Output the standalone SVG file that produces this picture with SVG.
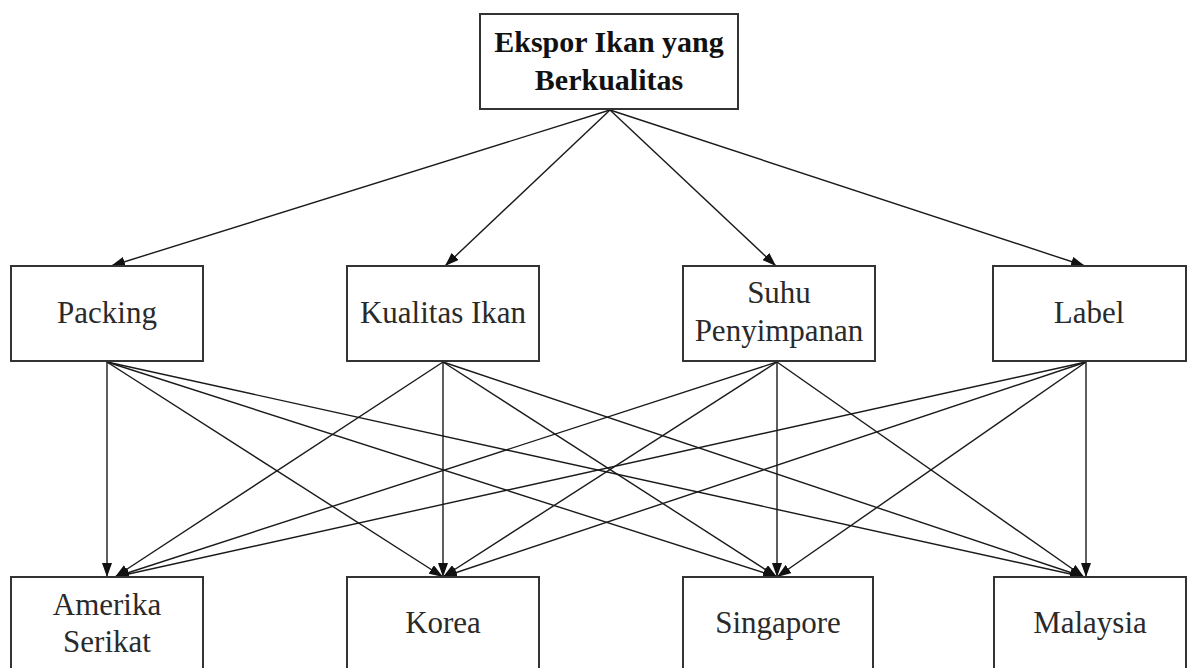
<svg xmlns="http://www.w3.org/2000/svg" width="1193" height="668" viewBox="0 0 1193 668">
  <defs>
    <marker id="arrow" viewBox="0 0 14 10" refX="14" refY="5" markerWidth="14" markerHeight="10" markerUnits="userSpaceOnUse" orient="auto">
      <path d="M0,0 L14,5 L0,10 Z" fill="#111"/>
    </marker>
  </defs>
  <style>
    .box { fill: #fff; stroke: #333; stroke-width: 2; }
    .lbl { font-family: "Liberation Serif", "Times New Roman", serif; font-size: 31px; fill: #2a2a2a; text-anchor: middle; }
    .title { font-weight: bold; font-size: 30px; fill: #111; }
    .edge { stroke: #1a1a1a; stroke-width: 1.4; fill: none; marker-end: url(#arrow); }
  </style>
  <rect width="1193" height="668" fill="#fff"/>

  <!-- connectors -->
  <g id="connectors">
    <!-- root to criteria -->
    <line class="edge" x1="610" y1="110" x2="111" y2="266"/>
    <line class="edge" x1="610" y1="110" x2="445" y2="266"/>
    <line class="edge" x1="610" y1="110" x2="776" y2="266"/>
    <line class="edge" x1="610" y1="110" x2="1085" y2="266"/>
    <!-- Packing to destinations -->
    <line class="edge" x1="107" y1="362" x2="107" y2="577"/>
    <line class="edge" x1="107" y1="362" x2="443" y2="577"/>
    <line class="edge" x1="107" y1="362" x2="777" y2="577"/>
    <line class="edge" x1="107" y1="362" x2="1084" y2="577"/>
    <!-- Kualitas Ikan to destinations -->
    <line class="edge" x1="443" y1="362" x2="115" y2="577"/>
    <line class="edge" x1="443" y1="362" x2="443" y2="577"/>
    <line class="edge" x1="443" y1="362" x2="777" y2="577"/>
    <line class="edge" x1="443" y1="362" x2="1084" y2="577"/>
    <!-- Suhu Penyimpanan to destinations -->
    <line class="edge" x1="777" y1="362" x2="115" y2="577"/>
    <line class="edge" x1="777" y1="362" x2="443" y2="577"/>
    <line class="edge" x1="777" y1="362" x2="777" y2="577"/>
    <line class="edge" x1="777" y1="362" x2="1084" y2="577"/>
    <!-- Label to destinations -->
    <line class="edge" x1="1086" y1="362" x2="115" y2="577"/>
    <line class="edge" x1="1086" y1="362" x2="443" y2="577"/>
    <line class="edge" x1="1086" y1="362" x2="777" y2="577"/>
    <line class="edge" x1="1086" y1="362" x2="1086" y2="577"/>
  </g>

  <!-- goal -->
  <g id="node-ekspor">
    <rect class="box" x="480" y="14" width="258" height="95"/>
    <text class="lbl title" x="609" y="52">Ekspor Ikan yang</text>
    <text class="lbl title" x="609" y="90">Berkualitas</text>
  </g>

  <!-- criteria -->
  <g id="node-packing">
    <rect class="box" x="11" y="266" width="192" height="95"/>
    <text class="lbl" x="107" y="323">Packing</text>
  </g>
  <g id="node-kualitas">
    <rect class="box" x="347" y="266" width="192" height="95"/>
    <text class="lbl" x="443" y="323">Kualitas Ikan</text>
  </g>
  <g id="node-suhu">
    <rect class="box" x="683" y="266" width="192" height="95"/>
    <text class="lbl" x="779" y="303">Suhu</text>
    <text class="lbl" x="779" y="341">Penyimpanan</text>
  </g>
  <g id="node-label">
    <rect class="box" x="993" y="266" width="193" height="95"/>
    <text class="lbl" x="1089" y="323">Label</text>
  </g>

  <!-- destinations -->
  <g id="node-amerika">
    <rect class="box" x="11" y="577" width="192" height="100"/>
    <text class="lbl" x="107" y="615">Amerika</text>
    <text class="lbl" x="107" y="652">Serikat</text>
  </g>
  <g id="node-korea">
    <rect class="box" x="347" y="577" width="192" height="100"/>
    <text class="lbl" x="443" y="633">Korea</text>
  </g>
  <g id="node-singapore">
    <rect class="box" x="683" y="577" width="190" height="100"/>
    <text class="lbl" x="778" y="633">Singapore</text>
  </g>
  <g id="node-malaysia">
    <rect class="box" x="994" y="577" width="192" height="100"/>
    <text class="lbl" x="1090" y="633">Malaysia</text>
  </g>
</svg>
